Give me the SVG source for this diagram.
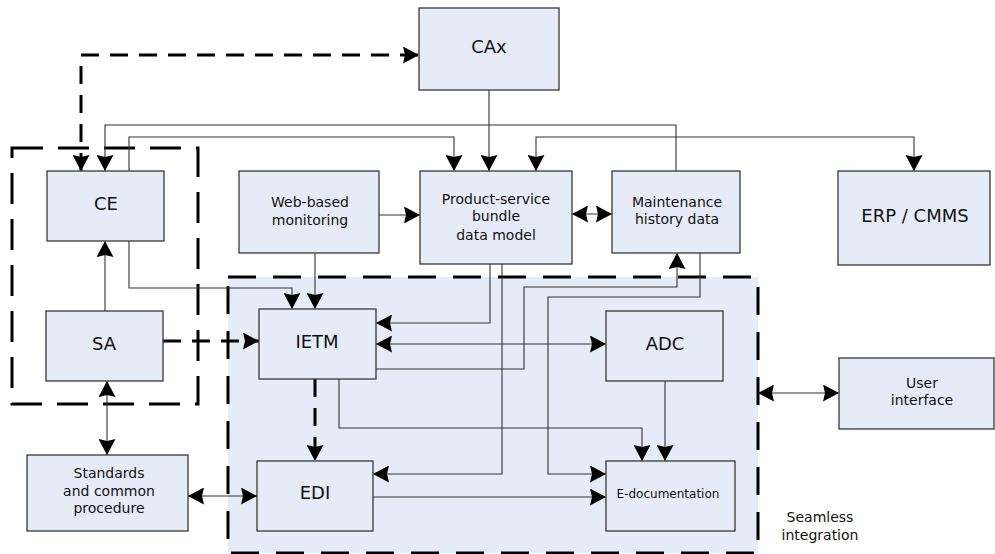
<svg xmlns="http://www.w3.org/2000/svg" width="995" height="554" viewBox="0 0 995 554">
<style>
.box{fill:#E6ECF7;stroke:#383838;stroke-width:1.3}
.t{font-family:"DejaVu Sans","Liberation Sans",sans-serif;fill:#111;text-anchor:middle}
.big{font-size:18px}
.mid{font-size:14px}
.sm{font-size:12px}
.c{fill:none;stroke:#333;stroke-width:1.1}
.d{fill:none;stroke:#000;stroke-width:3;stroke-dasharray:18 11}
.ar{marker-end:url(#ah)}
.bi{marker-start:url(#ah);marker-end:url(#ah)}
</style>
<defs>
<marker id="ah" viewBox="0 0 16 17" refX="16" refY="8.5" markerWidth="16" markerHeight="17" markerUnits="userSpaceOnUse" orient="auto-start-reverse">
<path d="M0,0 L16,8.5 L0,17 L2,8.5 z" fill="#000"/>
</marker>
</defs>
<rect width="995" height="554" fill="#fff"/>

<g id="seamless-region">
<rect x="228" y="277" width="530" height="276" fill="#E6ECF7"/>
<rect x="228" y="277" width="530" height="276" fill="none" stroke="#000" stroke-width="3" stroke-dasharray="28 17"/>
<text class="t mid" x="820" y="522">Seamless</text>
<text class="t mid" x="820" y="540">integration</text>
</g>
<g id="ce-sa-group">
<rect x="12" y="148" width="186" height="256" fill="none" stroke="#000" stroke-width="3" stroke-dasharray="31 15"/>
</g>

<g id="connectors">
<path class="d bi" d="M81,171 V55 H419"/>
<path class="c ar" d="M489,90 V171"/>
<path class="c ar" d="M676,171 V125 H105 V171"/>
<path class="c ar" d="M129,171 V137 H454 V171"/>
<path class="c bi" d="M536,171 V137 H914 V171"/>
<path class="c ar" d="M379,215 H420"/>
<path class="c bi" d="M572,214 H612"/>
<path class="c ar" d="M105,311 V241"/>
<path class="c ar" d="M129,241 V288 H292 V309"/>
<path class="c ar" d="M315,253 V309"/>
<path class="d ar" d="M163,341 H259"/>
<path class="c ar" d="M490,264 V323 H376"/>
<path class="c bi" d="M376,344 H606"/>
<path class="c ar" d="M376,369 H524 V287 H677 V253"/>
<path class="c ar" d="M700,253 V297 H548 V474 H606"/>
<path class="c ar" d="M502,264 V474 H373"/>
<path class="c ar" d="M339,379 V428 H642 V461"/>
<path class="c ar" d="M665,381 V461"/>
<path class="c ar" d="M373,497 H606"/>
<path class="d ar" d="M315,379 V461"/>
<path class="c bi" d="M188,496 H257"/>
<path class="c bi" d="M107,381 V455"/>
<path class="c bi" d="M758,393 H839"/>
</g>

<g id="cax"><rect class="box" x="419" y="8" width="140" height="82"/><text class="t big" x="489" y="53">CAx</text></g>
<g id="ce"><rect class="box" x="47" y="171" width="117" height="70"/><text class="t big" x="106" y="210">CE</text></g>
<g id="sa"><rect class="box" x="46" y="311" width="117" height="70"/><text class="t big" x="104" y="350">SA</text></g>
<g id="web"><rect class="box" x="239" y="171" width="140" height="82"/><text class="t mid" x="310" y="207">Web-based</text><text class="t mid" x="310" y="225">monitoring</text></g>
<g id="psb"><rect class="box" x="420" y="171" width="152" height="93"/><text class="t mid" x="496" y="204">Product-service</text><text class="t mid" x="496" y="221">bundle</text><text class="t mid" x="496" y="240">data model</text></g>
<g id="maint"><rect class="box" x="612" y="171" width="128" height="82"/><text class="t mid" x="677" y="207">Maintenance</text><text class="t mid" x="677" y="224">history data</text></g>
<g id="erp"><rect class="box" x="838" y="171" width="152" height="94"/><text class="t big" x="915" y="222">ERP / CMMS</text></g>
<g id="ietm"><rect class="box" x="259" y="309" width="117" height="70"/><text class="t big" x="317" y="348">IETM</text></g>
<g id="adc"><rect class="box" x="606" y="311" width="117" height="70"/><text class="t big" x="665" y="350">ADC</text></g>
<g id="ui"><rect class="box" x="839" y="358" width="155" height="71"/><text class="t mid" x="922" y="388">User</text><text class="t mid" x="922" y="405">interface</text></g>
<g id="std"><rect class="box" x="27" y="455" width="161" height="76"/><text class="t mid" x="109" y="478">Standards</text><text class="t mid" x="109" y="496">and common</text><text class="t mid" x="109" y="513">procedure</text></g>
<g id="edi"><rect class="box" x="257" y="461" width="116" height="70"/><text class="t big" x="315" y="499">EDI</text></g>
<g id="edoc"><rect class="box" x="606" y="461" width="129" height="70"/><text class="t sm" x="668" y="498">E-documentation</text></g>
</svg>
